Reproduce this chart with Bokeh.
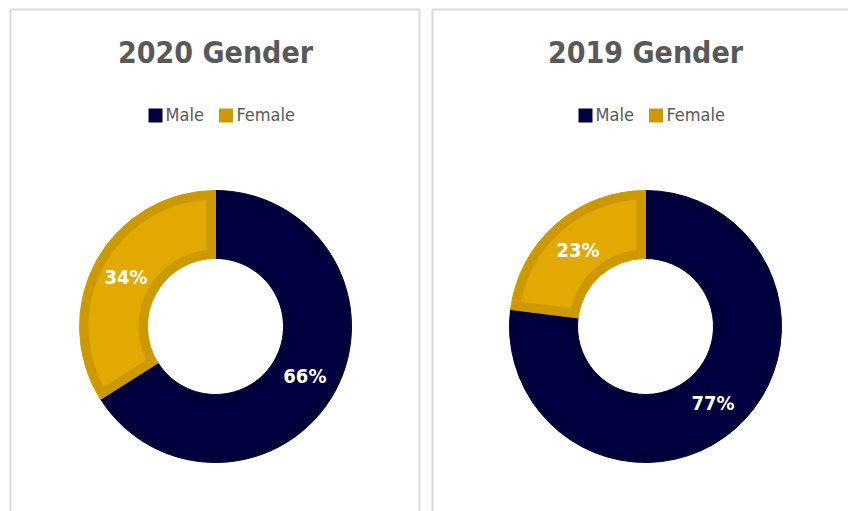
import numpy as np
from bokeh.plotting import figure
from bokeh.models import Range1d, ColumnDataSource
from bokeh.core.properties import value
from bokeh.embed import file_html
from bokeh.resources import INLINE

# ---- data ----
titles = ["2020 Gender", "2019 Gender"]
categories = ["Male", "Female"]
share_2020 = [66, 34]
share_2019 = [77, 23]
series = [share_2020, share_2019]

fill_colors = ["#000040", "#E2AA00"]
edge_colors = ["#00003A", "#CC9A00"]
TEXT_GREY = "#595959"
FONT_B = "'Liberation Sans Narrow', 'DejaVu Sans Condensed', sans-serif"

W, H = 848, 511
p = figure(width=W, height=H, x_range=Range1d(0, W), y_range=Range1d(0, H),
           output_backend="svg", toolbar_location=None, min_border=0)
p.axis.visible = False
p.grid.visible = False
p.outline_line_color = None
p.background_fill_color = "white"
p.border_fill_color = "white"

# panel frames (extend past the visible window like the reference)
p.quad(left=[10, 432], right=[419, 870], top=[502, 502], bottom=[-20, -20],
       fill_color=None, line_color="#D9D9D9", line_width=2)

centers_x = [215, 645]
cy = 185
r_out, r_in = 136, 68
d = 9  # inner band width

for k, vals in enumerate(series):
    cx = centers_x[k]
    fr = np.array(vals, dtype=float) / np.sum(vals)
    cum = np.concatenate([[0], np.cumsum(fr)])
    starts = np.pi / 2 - 2 * np.pi * cum[:-1]
    ends = np.pi / 2 - 2 * np.pi * cum[1:]
    src = ColumnDataSource(dict(start=starts, end=ends, color=edge_colors,
                                fill=fill_colors, cat=categories))
    p.annular_wedge(x=cx, y=cy, inner_radius=r_in, outer_radius=r_out,
                    start_angle="start", end_angle="end", direction="clock",
                    fill_color="color", line_color="color", line_width=1, source=src)
    # inset lighter fill
    xs, ys = [], []
    Ro, Ri = r_out - d, r_in + d
    for a0, a1 in zip(starts, ends):
        o0, o1 = a0 - np.arcsin(d / Ro), a1 + np.arcsin(d / Ro)
        i0, i1 = a0 - np.arcsin(d / Ri), a1 + np.arcsin(d / Ri)
        to = np.linspace(o0, o1, 120)
        ti = np.linspace(i1, i0, 80)
        xs.append(list(cx + Ro * np.cos(to)) + list(cx + Ri * np.cos(ti)))
        ys.append(list(cy + Ro * np.sin(to)) + list(cy + Ri * np.sin(ti)))
    p.patches(xs=xs, ys=ys, fill_color=fill_colors, line_color=None)

    # percentage labels
    mid = (starts + ends) / 2
    rm = (r_in + r_out) / 2
    p.text(x=cx + rm * np.cos(mid), y=cy + rm * np.sin(mid),
           text=[f"{v}%" for v in vals], text_color="white",
           text_font=value(FONT_B), text_font_style="bold", text_font_size="20px",
           text_align="center", text_baseline="middle")

    # title
    p.text(x=[cx], y=[459], text=[titles[k]], text_color=TEXT_GREY,
           text_font=value(FONT_B), text_font_style="bold", text_font_size="30px",
           text_align="center", text_baseline="middle")

    # legend
    lx = [cx - 60, cx + 10.5]
    p.rect(x=lx, y=[396, 396], width=14, height=14,
           fill_color=[fill_colors[0], edge_colors[1]], line_color=None)
    p.text(x=[cx - 50, cx + 21], y=[397, 397], text=categories, text_color=TEXT_GREY,
           text_font=value(FONT_B), text_font_size="18px",
           text_align="left", text_baseline="middle")

open("out.html", "w").write(file_html(p, INLINE))
